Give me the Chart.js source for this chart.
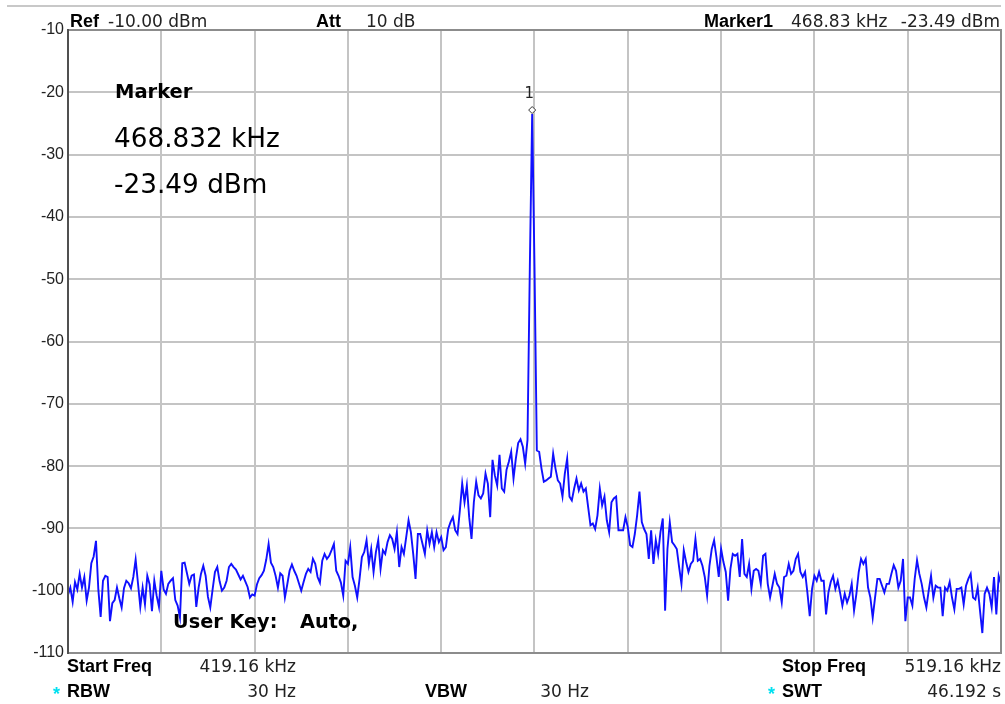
<!DOCTYPE html>
<html>
<head>
<meta charset="utf-8">
<script src="https://cdn.jsdelivr.net/npm/chart.js@4.4.1/dist/chart.umd.min.js"></script>
<style>
html,body{margin:0;padding:0;background:#fff;}
#wrap{position:relative;width:1005px;height:704px;}
canvas{display:block;}
</style>
</head>
<body>
<div id="wrap"><canvas id="c" width="1005" height="704"></canvas></div>
<script>
// ---- data ----
const freqStartKHz = 419.16;
const freqStopKHz = 519.16;
const yTicks = [-10, -20, -30, -40, -50, -60, -70, -80, -90, -100, -110];
const xDivisions = 10;

const traceLeft = [
-100.7,-99.5,-101.8,-98.6,-99.8,-97.3,-99.5,-97.8,-101.6,-99.5,
-95.6,-94.5,-92.0,-99.8,-104.2,-98.4,-97.6,-97.8,-104.9,-102.0,
-101.5,-99.5,-101.2,-102.7,-99.6,-98.4,-98.8,-99.6,-97.8,-95.0,
-98.8,-102.6,-99.5,-102.2,-97.6,-99.0,-103.3,-98.4,-100.8,-102.6,
-96.8,-99.8,-100.5,-98.9,-98.4,-98.0,-101.5,-102.4,-104.3,-95.6,
-95.5,-97.2,-98.9,-97.6,-97.4,-102.6,-99.5,-97.3,-96.0,-97.6,
-101.0,-102.7,-99.8,-97.0,-96.2,-98.5,-100.0,-99.5,-98.4,-96.2,
-95.7,-96.2,-96.6,-97.4,-98.2,-97.6,-98.5,-99.4,-101.1,-100.6,
-100.8,-99.0,-98.0,-97.5,-96.8,-95.0,-92.5,-95.5,-96.2,-97.6,
-99.5,-97.2,-97.6,-101.1,-99.0,-96.8,-95.8,-96.8,-97.6,-98.8,
-100.0,-98.6
];
const traceRise = [
-97.3,-96.5,-97.0,-94.9,-95.7,-97.8,-98.7,-95.2,-94.1,-94.9,
-94.4,-93.5,-92.5,-96.8,-97.6,-98.7,-100.8,-95.2,-95.7,-93.0,
-97.8,-99.2,-101.1,-98.1,-94.6,-93.8,-91.9,-95.7,-93.3,-97.0,
-93.8,-91.9,-96.5,-93.5,-94.1,-92.2,-91.1,-91.7,-93.3,-90.6,
-96.2,-93.0,-94.1,-91.4,-88.7,-90.6,-94.1,-98.1,-90.9,-90.9,
-92.5,-94.1,-90.3,-92.5,-90.6,-93.0,-90.6,-92.2,-91.4,-93.5,
-93.0,-90.1,-89.0,-88.2,-90.3,-90.9,-87.1,-82.8,-85.8,-83.1,
-88.2,-91.7,-85.8,-82.5,-84.7,-85.2,-84.4,-81.2,-82.8,-88.2,
-79.0,-81.5,-83.1,-78.2,-83.6,-84.1,-80.6,-79.3,-77.7,-82.0,
-78.8,-76.3,-75.7,-76.9,-79.6,-75.8
];
const tracePeak = [-48.0, -23.49, -48.0];
const traceFall = [
-77.5,-77.7,-80.4,-82.5,-82.3,-82.0,-81.7,-78.0,-80.4,-82.3,
-82.8,-84.9,-81.2,-78.8,-84.9,-85.5,-83.6,-82.0,-83.9,-82.8,
-84.1,-83.6,-86.6,-89.5,-89.2,-90.1,-87.9,-83.6,-86.3,-84.9,
-88.7,-90.6,-85.8,-85.2,-84.9,-90.3,-90.3,-90.3,-88.2,-89.8,
-92.7,-93.0,-90.9,-87.9,-84.1,-89.0,-90.1,-90.9,-94.9,-90.3,
-95.7,-91.9,-94.1,-90.6,-88.4,-103.2,-93.3,-89.0,-92.2,-92.7,
-93.3,-96.2,-98.9,-93.5,-95.4,-97.0,-95.7,-95.2,-91.7,-95.2,
-94.9,-96.0,-97.8,-100.8,-96.0,-93.3,-91.9,-94.6,-97.8,-93.3,
-95.4,-97.0,-101.6,-96.5,-94.1,-94.4,-94.1,-97.8,-91.7,-97.3,
-97.8,-95.7,-99.7,-96.8,-96.5,-96.8,-98.9,-94.4,-94.1,-98.9,
-101.1
];
const traceRight = [
-99.2,-97.3,-98.9,-99.5,-101.9,-97.8,-97.6,-95.7,-97.3,-96.8,
-94.9,-94.1,-97.0,-97.8,-97.0,-100.3,-104.1,-99.7,-97.6,-98.4,
-97.0,-98.4,-98.4,-103.8,-100.3,-98.6,-97.6,-99.7,-98.4,-100.3,
-102.4,-100.5,-101.9,-100.8,-98.9,-103.2,-100.5,-97.0,-94.9,-95.7,
-94.9,-99.5,-101.1,-104.3,-101.1,-98.1,-98.1,-99.2,-100.3,-98.9,
-98.9,-97.3,-95.9,-96.8,-99.5,-98.4,-94.9,-104.9,-101.1,-101.1,
-102.4,-98.1,-95.1,-97.3,-98.9,-101.1,-102.7,-100.0,-97.6,-101.1,
-99.2,-99.5,-99.5,-104.1,-99.5,-100.0,-98.6,-101.1,-103.0,-99.7,
-99.7,-99.5,-102.2,-99.2,-98.1,-97.3,-101.1,-101.4,-99.5,-103.2,
-106.8,-100.5,-99.5,-100.5,-102.7,-97.8,-103.8,-97.6,-98.9
];

const levels = [].concat(traceLeft, traceRise, tracePeak, traceFall, traceRight);
const freqStep = (freqStopKHz - freqStartKHz) / (levels.length - 1);
const points = levels.map((v, i) => ({ x: freqStartKHz + i * freqStep, y: v }));
const xTicks = [];
for (let k = 0; k <= xDivisions; k++) xTicks.push(freqStartKHz + k * (freqStopKHz - freqStartKHz) / xDivisions);
const peakIndex = levels.indexOf(Math.max(...levels));

const SANS = "'Liberation Sans', Arial, sans-serif";
const WIDE = "'DejaVu Sans', 'Liberation Sans', sans-serif";

const overlay = {
  id: 'overlay',
  beforeDraw(chart) {
    const ctx = chart.ctx;
    ctx.save();
    ctx.fillStyle = '#ffffff';
    ctx.fillRect(0, 0, chart.width, chart.height);
    ctx.strokeStyle = '#c8c8c8';
    ctx.lineWidth = 2;
    ctx.beginPath();
    ctx.moveTo(7, 6); ctx.lineTo(1001, 6);
    ctx.stroke();
    ctx.restore();
  },
  afterDraw(chart) {
    const ctx = chart.ctx;
    const ca = chart.chartArea;
    ctx.save();
    ctx.strokeStyle = '#8c8c8c';
    ctx.lineWidth = 2;
    ctx.beginPath();
    ctx.moveTo(ca.left, ca.top); ctx.lineTo(ca.right, ca.top); ctx.lineTo(ca.right, ca.bottom);
    ctx.stroke();
    ctx.strokeStyle = '#505050';
    ctx.beginPath();
    ctx.moveTo(ca.left, ca.top - 1); ctx.lineTo(ca.left, ca.bottom + 1);
    ctx.stroke();

    function txt(s, x, y, font, align, color) {
      ctx.font = font;
      ctx.textAlign = align || 'left';
      ctx.textBaseline = 'alphabetic';
      ctx.fillStyle = color || '#000';
      ctx.fillText(s, x, y);
    }
    const B = 'bold 18px ' + SANS;
    const N = '17px ' + WIDE;
    // header
    txt('Ref', 70, 27, B);
    txt('-10.00 dBm', 108, 27, N, 'left', '#222');
    txt('Att', 316, 27, B);
    txt('10 dB', 366, 27, N, 'left', '#222');
    txt('Marker1', 704, 27, B);
    txt('468.83 kHz', 791, 27, N, 'left', '#222');
    txt('-23.49 dBm', 1000, 27, N, 'right', '#222');
    // footer
    txt('Start Freq', 67, 672, B);
    txt('419.16 kHz', 296, 672, N, 'right', '#222');
    txt('Stop Freq', 782, 672, B);
    txt('519.16 kHz', 1001, 672, N, 'right', '#222');
    txt('*', 53, 700, B, 'left', '#00e0f0');
    txt('RBW', 67, 697, B);
    txt('30 Hz', 296, 697, N, 'right', '#222');
    txt('VBW', 425, 697, B);
    txt('30 Hz', 589, 697, N, 'right', '#222');
    txt('*', 768, 700, B, 'left', '#00e0f0');
    txt('SWT', 782, 697, B);
    txt('46.192 s', 1001, 697, N, 'right', '#222');
    // marker info block
    txt('Marker', 115, 98, 'bold 19.5px ' + WIDE);
    txt('468.832 kHz', 114, 147, '26.3px ' + WIDE);
    txt('-23.49 dBm', 114, 193, '26.3px ' + WIDE);
    txt('User Key:', 173, 628, 'bold 19.3px ' + WIDE);
    txt('Auto,', 300, 628, 'bold 19.3px ' + WIDE);

    const meta = chart.getDatasetMeta(0);
    const p = meta.data[peakIndex];
    if (p) {
      const px = p.x, py = p.y - 4;
      ctx.fillStyle = '#fff';
      ctx.strokeStyle = '#333';
      ctx.lineWidth = 1;
      ctx.beginPath();
      ctx.moveTo(px, py - 3.5); ctx.lineTo(px + 3.5, py); ctx.lineTo(px, py + 3.5); ctx.lineTo(px - 3.5, py); ctx.closePath();
      ctx.fill(); ctx.stroke();
      txt('1', px - 3, 98, '15px ' + WIDE, 'center', '#222');
    }
    ctx.restore();
  }
};

new Chart(document.getElementById('c'), {
  type: 'line',
  data: {
    datasets: [{
      data: points,
      borderColor: '#1010ff',
      borderWidth: 1.9,
      pointRadius: 0,
      tension: 0,
      fill: false
    }]
  },
  options: {
    responsive: false,
    animation: false,
    events: [],
    layout: { padding: { top: 30, right: 4, bottom: 0, left: 0 } },
    plugins: { legend: { display: false }, tooltip: { enabled: false }, title: { display: false } },
    scales: {
      x: {
        type: 'linear',
        min: freqStartKHz,
        max: freqStopKHz,
        afterBuildTicks: (s) => { s.ticks = xTicks.map(v => ({ value: v })); },
        afterFit: (s) => { s.height = 51; },
        ticks: { display: false },
        grid: { color: '#c4c4c4', lineWidth: 2, drawTicks: false },
        border: { display: true, color: '#8c8c8c', width: 2 }
      },
      y: {
        min: -110,
        max: -10,
        afterBuildTicks: (s) => { s.ticks = yTicks.map(v => ({ value: v })); },
        afterFit: (s) => { s.width = 68; },
        ticks: {
          padding: 4,
          color: '#222',
          font: { family: SANS, size: 16 },
          autoSkip: false,
          callback: (v) => String(v)
        },
        grid: { color: '#c4c4c4', lineWidth: 2, drawTicks: false },
        border: { display: true, color: '#505050', width: 2 }
      }
    }
  },
  plugins: [overlay]
});
</script>
</body>
</html>
